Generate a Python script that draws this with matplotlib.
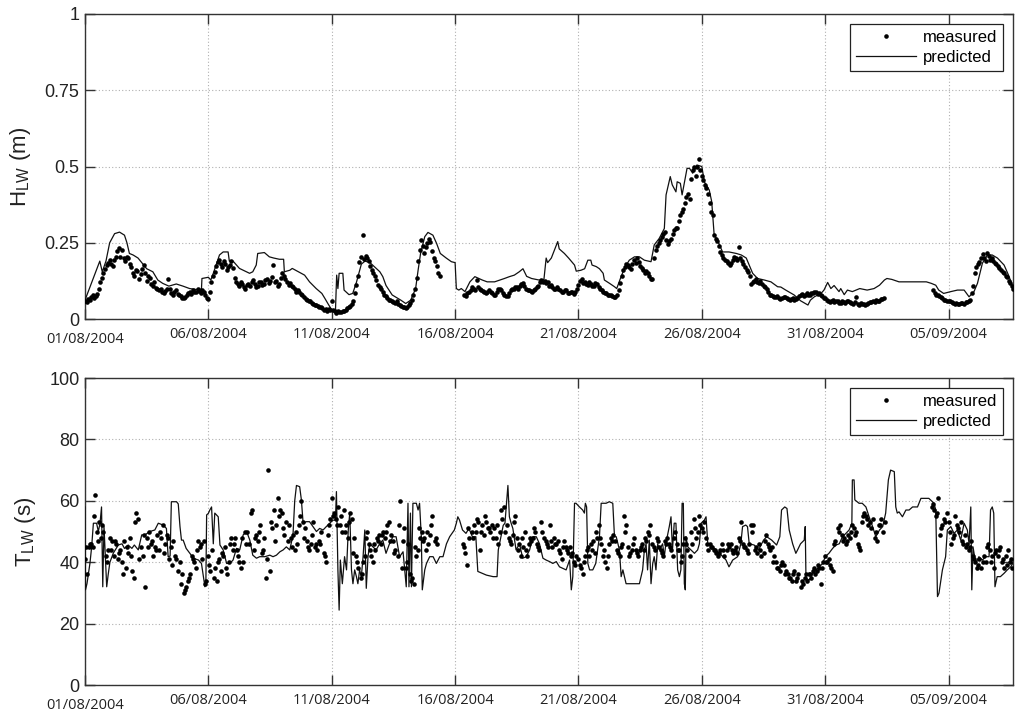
import numpy as np
import matplotlib
matplotlib.use("Agg")
import matplotlib.pyplot as plt
from matplotlib.lines import Line2D

nan = np.nan

# ---------------- DATA ----------------
start_date = "2004-08-01T00:00"
x_end_days = 37.6
tick_dates = ["2004-08-01", "2004-08-06", "2004-08-11", "2004-08-16",
              "2004-08-21", "2004-08-26", "2004-08-31", "2004-09-05"]
tick_labels = ["01/08/2004", "06/08/2004", "11/08/2004", "16/08/2004",
               "21/08/2004", "26/08/2004", "31/08/2004", "05/09/2004"]

# measured H_LW (m), one value every 3 hours from 01/08/2004 00:00
H_meas_step_h = 3
H_meas = [
    0.060, 0.066, 0.072, 0.070, 0.082, 0.120, 0.150, 0.178,
    0.193, 0.175, 0.205, 0.232, 0.228, 0.190, 0.200, 0.172,
    0.140, 0.158, 0.148, 0.178, 0.125, 0.135, 0.110, 0.102,
    0.095, 0.090, 0.092, 0.132, 0.085, 0.090, 0.082, 0.074,
    0.068, 0.078, 0.088, 0.095, 0.090, 0.092, 0.096, 0.078,
    0.065, 0.120, 0.155, 0.186, 0.182, 0.190, 0.162, 0.176,
    0.168, 0.122, 0.108, 0.114, 0.100, 0.115, 0.122, 0.116,
    0.110, 0.122, 0.116, 0.130, 0.124, 0.178, 0.124, 0.116,
    0.150, 0.132, 0.112, 0.110, 0.100, 0.094, 0.082, 0.072,
    0.064, 0.058, 0.050, 0.046, 0.040, 0.036, 0.032, 0.034,
    0.060, 0.025, 0.028, 0.022, 0.026, 0.035, 0.043, 0.060,
    0.112, 0.188, 0.275, 0.208, 0.190, 0.162, 0.140, 0.112,
    0.100, 0.080, 0.068, 0.062, 0.057, 0.060, 0.047, 0.040,
    0.036, 0.045, 0.062, 0.100, 0.190, 0.258, 0.215, 0.248,
    0.254, 0.200, 0.175, 0.140, nan, nan, nan, nan,
    nan, nan, nan, 0.080, 0.085, 0.095, 0.100, 0.128,
    0.100, 0.092, 0.085, 0.095, 0.084, 0.080, 0.100, 0.094,
    0.079, 0.074, 0.095, 0.100, 0.106, 0.110, 0.117, 0.100,
    0.095, 0.090, 0.100, 0.110, 0.128, 0.126, 0.120, 0.113,
    0.100, 0.104, 0.095, 0.090, 0.096, 0.084, 0.088, 0.090,
    0.111, 0.130, 0.122, 0.112, 0.116, 0.110, 0.114, 0.100,
    0.090, 0.084, 0.080, 0.076, 0.073, 0.095, 0.140, 0.172,
    0.178, 0.165, 0.192, 0.200, 0.175, 0.162, 0.158, 0.140,
    0.132, 0.225, 0.250, 0.268, 0.285, 0.245, 0.262, 0.292,
    0.300, 0.340, 0.360, 0.400, 0.395, 0.490, 0.470, 0.525,
    0.470, 0.440, 0.410, 0.352, 0.275, 0.255, 0.220, 0.200,
    0.190, 0.178, 0.195, 0.200, 0.237, 0.190, 0.172, 0.155,
    0.115, 0.125, 0.122, 0.126, 0.110, 0.100, 0.080, 0.075,
    0.072, 0.070, 0.068, 0.071, 0.066, 0.065, 0.062, 0.070,
    0.079, 0.077, 0.084, 0.080, 0.084, 0.090, 0.084, 0.076,
    0.068, 0.058, 0.060, 0.056, 0.060, 0.054, 0.056, 0.060,
    0.056, 0.050, 0.073, 0.046, 0.050, 0.046, 0.052, 0.056,
    0.057, 0.060, 0.065, 0.068, nan, nan, nan, nan,
    nan, nan, nan, nan, nan, nan, nan, nan,
    nan, nan, nan, 0.095, 0.080, 0.075, 0.068, 0.062,
    0.060, 0.056, 0.051, 0.050, 0.053, 0.050, 0.055, 0.062,
    0.110, 0.170, 0.188, 0.212, 0.190, 0.208, 0.200, 0.185,
    0.175, 0.160, 0.150, 0.138, 0.118, 0.100,
]
# measured H_LW (m), intermediate samples (every 3 hours from 01/08/2004 01:30)
H_meas_b_offset_h = 1.5
H_meas_b = [
    0.055, 0.062, 0.080, 0.075, 0.100, 0.135, 0.165, 0.185,
    0.180, 0.195, 0.222, 0.205, 0.200, 0.205, 0.182, 0.150,
    0.162, 0.130, 0.165, 0.150, 0.142, 0.115, 0.120, 0.098,
    0.100, 0.084, 0.100, 0.098, 0.080, 0.095, 0.078, 0.070,
    0.072, 0.085, 0.082, 0.088, 0.098, 0.085, 0.088, 0.070,
    0.090, 0.140, 0.175, 0.195, 0.172, 0.180, 0.170, 0.190,
    0.135, 0.115, 0.120, 0.105, 0.112, 0.108, 0.128, 0.105,
    0.120, 0.112, 0.128, 0.118, 0.138, 0.122, 0.110, 0.135,
    0.140, 0.120, 0.118, 0.105, 0.090, 0.088, 0.078, 0.066,
    0.060, 0.052, 0.046, 0.042, 0.038, 0.030, 0.028, 0.030,
    0.030, 0.020, 0.024, 0.026, 0.030, 0.040, 0.050, 0.085,
    0.140, 0.205, 0.198, 0.200, 0.175, 0.150, 0.128, 0.105,
    0.090, 0.075, 0.064, 0.060, 0.052, 0.050, 0.043, 0.038,
    0.040, 0.052, 0.080, 0.135, 0.225, 0.240, 0.235, 0.262,
    0.222, 0.190, 0.150, nan, nan, nan, nan, nan,
    nan, nan, nan, 0.075, 0.090, 0.105, 0.095, 0.105,
    0.096, 0.088, 0.090, 0.088, 0.078, 0.090, 0.098, 0.085,
    0.076, 0.085, 0.098, 0.104, 0.100, 0.115, 0.108, 0.096,
    0.092, 0.096, 0.105, 0.120, 0.122, 0.118, 0.108, 0.105,
    0.098, 0.100, 0.090, 0.094, 0.086, 0.090, 0.082, 0.100,
    0.124, 0.118, 0.115, 0.120, 0.108, 0.118, 0.106, 0.096,
    0.086, 0.080, 0.078, 0.072, 0.078, 0.118, 0.160, 0.180,
    0.170, 0.180, 0.185, 0.188, 0.168, 0.150, 0.150, 0.130,
    0.200, 0.238, 0.258, 0.280, 0.260, 0.255, 0.280, 0.300,
    0.320, 0.350, 0.380, 0.410, 0.460, 0.500, 0.500, 0.490,
    0.455, 0.430, 0.380, 0.340, 0.262, 0.240, 0.210, 0.195,
    0.185, 0.185, 0.205, 0.195, 0.200, 0.180, 0.160, 0.140,
    0.120, 0.130, 0.118, 0.115, 0.105, 0.090, 0.078, 0.072,
    0.075, 0.066, 0.072, 0.068, 0.062, 0.068, 0.065, 0.075,
    0.082, 0.080, 0.078, 0.086, 0.088, 0.082, 0.080, 0.070,
    0.062, 0.055, 0.062, 0.058, 0.052, 0.058, 0.054, 0.058,
    0.052, 0.055, 0.048, 0.052, 0.048, 0.050, 0.055, 0.058,
    0.062, 0.058, 0.066, nan, nan, nan, nan, nan,
    nan, nan, nan, nan, nan, nan, nan, nan,
    nan, nan, nan, 0.085, 0.078, 0.072, 0.064, 0.058,
    0.058, 0.052, 0.054, 0.048, 0.052, 0.056, 0.058, 0.085,
    0.150, 0.180, 0.200, 0.200, 0.215, 0.195, 0.190, 0.180,
    0.168, 0.155, 0.142, 0.125, 0.108,
]

# predicted H_LW (m): (days since 01/08/2004, value)
H_pred_day = [0.0, 0.6, 0.7, 0.85, 1.0, 1.2, 1.4, 1.6, 1.7, 1.8, 1.95, 2.15, 2.35, 2.5,
              2.75, 2.95, 3.15, 3.4, 3.7, 3.97, 4.24, 4.5, 4.72, 4.74, 5.0, 5.1, 5.2, 5.45,
              5.6, 5.8, 5.85, 6.0, 6.26, 6.67, 6.8, 6.94, 7.0, 7.27, 7.47, 7.65, 7.88, 8.05,
              8.08, 8.3, 8.4, 8.65, 8.9, 9.1, 9.37, 9.6, 9.72, 9.85, 10.0, 10.15, 10.2,
              10.25, 10.3, 10.45, 10.5, 10.7, 10.85, 11.0, 11.2, 11.35, 11.55, 11.75,
              11.95, 12.07, 12.2, 12.45, 12.8, 13.0, 13.2, 13.4, 13.5, 13.6, 13.77, 13.9,
              14.1, 14.25, 14.4, 14.64, 14.85, 15.0, 15.05, 15.15, 15.25, 15.4, 15.6,
              15.8, 16.1, 16.3, 16.6, 17.0, 17.2, 17.4, 17.6, 17.75, 17.9, 18.1, 18.4,
              18.6, 18.69, 18.75, 18.9, 19.16, 19.22, 19.43, 19.6, 19.84, 19.91, 20.1,
              20.25, 20.38, 20.5, 20.55, 20.72, 20.85, 21.0, 21.05, 21.26, 21.46, 21.55,
              21.7, 21.86, 22.06, 22.27, 22.47, 22.67, 22.94, 23.07, 23.27, 23.48, 23.55,
              23.72, 23.8, 23.95, 24.0, 24.13, 24.2, 24.4, 24.5, 24.63, 24.8, 25.0, 25.1,
              25.3, 25.4, 25.5, 25.6, 25.84, 26.1, 26.4, 26.6, 26.8, 26.92, 27.06, 27.26,
              27.53, 27.8, 28.07, 28.2, 28.4, 28.74, 29.0, 29.3, 29.4, 29.56, 29.83,
              29.95, 30.1, 30.23, 30.36, 30.56, 30.63, 30.77, 30.9, 31.1, 31.4, 31.7,
              31.98, 32.2, 32.4, 32.5, 32.7, 32.99, 33.33, 33.7, 34.1, 34.3, 34.48, 34.6,
              34.8, 35.09, 35.36, 35.63, 35.83, 36.03, 36.17, 36.37, 36.57, 36.77, 36.98,
              37.25, 37.45, 37.6]
H_pred = [0.062, 0.19, 0.155, 0.19, 0.25, 0.28, 0.285, 0.275, 0.25, 0.215, 0.21, 0.2, 0.18,
          0.165, 0.155, 0.128, 0.117, 0.108, 0.115, 0.108, 0.1, 0.097, 0.098, 0.133, 0.137,
          0.128, 0.15, 0.21, 0.22, 0.22, 0.19, 0.19, 0.166, 0.15, 0.155, 0.177, 0.215,
          0.218, 0.204, 0.2, 0.196, 0.196, 0.155, 0.16, 0.166, 0.155, 0.144, 0.122, 0.1,
          0.084, 0.068, 0.05, 0.03, 0.025, 0.144, 0.1, 0.15, 0.15, 0.095, 0.08, 0.084,
          0.12, 0.18, 0.19, 0.185, 0.17, 0.155, 0.139, 0.11, 0.079, 0.062, 0.051, 0.062,
          0.1, 0.16, 0.215, 0.27, 0.284, 0.275, 0.248, 0.215, 0.2, 0.188, 0.185, 0.1,
          0.095, 0.1, 0.09, 0.122, 0.139, 0.128, 0.122, 0.122, 0.133, 0.139, 0.144, 0.155,
          0.165, 0.14, 0.133, 0.128, 0.13, 0.2, 0.185, 0.2, 0.254, 0.23, 0.215, 0.2,
          0.177, 0.157, 0.16, 0.165, 0.193, 0.193, 0.177, 0.172, 0.165, 0.15, 0.128,
          0.117, 0.106, 0.1, 0.133, 0.166, 0.193, 0.204, 0.204, 0.193, 0.188, 0.243,
          0.264, 0.297, 0.407, 0.467, 0.44, 0.417, 0.45, 0.445, 0.407, 0.494, 0.494,
          0.478, 0.505, 0.5, 0.45, 0.423, 0.385, 0.275, 0.264, 0.22, 0.22, 0.215, 0.21,
          0.2, 0.177, 0.15, 0.133, 0.128, 0.122, 0.106, 0.105, 0.095, 0.079, 0.06, 0.046,
          0.062, 0.073, 0.084, 0.095, 0.12, 0.1, 0.11, 0.09, 0.1, 0.08, 0.095, 0.09, 0.1,
          0.095, 0.1, 0.111, 0.128, 0.133, 0.13, 0.122, 0.122, 0.122, 0.122, 0.117,
          0.111, 0.095, 0.084, 0.09, 0.095, 0.095, 0.073, 0.09, 0.117, 0.183, 0.21, 0.21,
          0.2, 0.177, 0.14, 0.105]

# measured T_LW (s), one value every 2 hours from 01/08/2004 00:00
T_meas_step_h = 2
T_meas = [
    41, 36, 45, 46, 45, 62, 50, 53, 48, 50, 42, 44,
    48, 47, 42, 46, 41, 44, 40, 47, 38, 43, 48, 37,
    35, 56, 54, 45, 42, 32, 48, 50, 46, 42, 45, 49,
    44, 48, 52, 46, 49, 41, 45, 47, 42, 37, 40, 36,
    30, 32, 34, 36, 42, 40, 38, 47, 45, 41, 47, 34,
    42, 37, 44, 38, 34, 41, 37, 42, 45, 36, 40, 48,
    44, 48, 44, 40, 38, 40, 50, 50, 46, 57, 44, 49,
    47, 52, 43, 48, 35, 70, 37, 51, 57, 52, 61, 57,
    56, 49, 53, 52, 48, 49, 44, 46, 52, 60, 53, 51,
    47, 44, 46, 53, 45, 44, 47, 50, 43, 40, 49, 54,
    61, 56, 54, 58, 52, 50, 57, 52, 48, 56, 54, 48,
    42, 38, 35, 40, 42, 50, 46, 42, 40, 44, 48, 49,
    46, 50, 48, 52, 53, 49, 47, 44, 42, 60, 38, 51,
    38, 46, 36, 35, 33, 42, 44, 48, 50, 48, 44, 46,
    49, 55, 47, 46, nan, nan, nan, nan, nan, nan, nan, nan,
    nan, nan, nan, nan, 46, 43, 39, 48, 50, 52, 50, 53,
    44, 52, 49, 53, 51, 50, 52, 51, 48, 46, 50, 54,
    58, 52, 48, 46, 49, 55, 48, 46, 42, 45, 50, 42,
    46, 47, 48, 50, 46, 44, 53, 48, 47, 45, 52, 45,
    48, 46, 47, 43, 41, 47, 45, 43, 45, 43, 40, 42,
    41, 38, 36, 42, 44, 42, 46, 47, 43, 48, 52, 46,
    42, 40, 38, 46, 48, 49, 47, 43, 42, 46, 55, 52,
    45, 43, 44, 48, 44, 42, 44, 46, 44, 47, 50, 52,
    46, 44, 48, 45, 44, 42, 47, 48, 46, 44, 42, 50,
    46, 44, 40, 46, 48, 44, 42, 46, 54, 48, 50, 52,
    51, 53, 48, 44, 46, 45, 44, 43, 42, 44, 46, 42,
    44, 45, 46, 43, 44, 43, 48, 53, 46, 45, 44, 46,
    52, 52, 44, 43, 46, 42, 43, 49, 46, 44, 45, 42,
    40, 38, 37, 40, 39, 37, 36, 35, 34, 37, 34, 36,
    32, 33, 35, 34, 36, 35, 37, 36, 37, 38, 33, 40,
    42, 40, 41, 38, 37, 47, 51, 52, 49, 48, 46, 49,
    48, 52, 51, 50, 46, 44, 53, 56, 55, 52, 53, 54,
    48, 47, 52, 54, 50, 53, nan, nan, nan, nan, nan, nan,
    nan, nan, nan, nan, nan, nan, nan, nan, nan, nan, nan, nan,
    nan, nan, nan, nan, 58, 57, 55, 61, 49, 52, 54, 56,
    53, 46, 48, 55, 52, 50, 53, 46, 49, 46, 44, 47,
    42, 40, 38, 41, 38, 42, 40, 46, 44, 42, 38, 44,
    42, 45, 40, 38, 42, 44, 40, 38,
]
# measured T_LW (s), intermediate samples (every 4 hours from 01/08/2004 01:00)
T_meas_b_step_h = 4
T_meas_b_offset_h = 1
T_meas_b = [
    45, 46, 55, 47, 52, 40,
    44, 47, 43, 36, 45, 42,
    53, 41, 49, 45, 47, 44,
    50, 43, 48, 39, 41, 33,
    31, 35, 41, 44, 46, 33,
    39, 35, 40, 43, 38, 46,
    46, 42, 48, 46, 56, 48,
    50, 44, 41, 53, 47, 55,
    51, 47, 45, 50, 55, 48,
    45, 49, 46, 46, 42, 52,
    55, 52, 55, 50, 53, 43,
    40, 36, 48, 44, 46, 47,
    49, 50, 47, 43, 52, 47,
    40, 34, 45, 51, 47, 50,
    52, 48, nan, nan, nan, nan,
    nan, nan, 45, 51, 48, 54,
    50, 55, 51, 48, 52, 57,
    50, 47, 53, 44, 48, 44,
    48, 51, 45, 50, 46, 47,
    46, 44, 45, 44, 42, 39,
    39, 40, 45, 44, 50, 48,
    44, 42, 47, 44, 45, 50,
    42, 46, 43, 45, 48, 49,
    45, 47, 43, 46, 45, 48,
    44, 42, 46, 50, 51, 55,
    50, 46, 45, 44, 43, 44,
    46, 44, 45, 47, 45, 43,
    50, 45, 44, 47, 45, 40,
    38, 39, 36, 35, 36, 35,
    34, 36, 36, 38, 39, 38,
    40, 39, 46, 50, 47, 47,
    50, 49, 45, 55, 54, 51,
    50, 52, nan, nan, nan, nan,
    nan, nan, nan, nan, nan, nan,
    nan, nan, 59, 56, 51, 53,
    50, 49, 51, 47, 45, 45,
    41, 39, 40, 45, 40, 43,
    44, 41, 39, 41,
]

# predicted T_LW (s): (days since 01/08/2004, value)
T_pred_day = [0.0, 0.02, 0.08, 0.2, 0.27, 0.34, 0.47, 0.54, 0.61, 0.67, 0.72, 0.77, 0.88,
              0.94, 1.01, 1.15, 1.35, 1.5, 1.6, 1.75, 1.9, 2.0, 2.16, 2.3, 2.43, 2.63, 2.83,
              2.97, 3.17, 3.3, 3.37, 3.45, 3.5, 3.71, 3.78, 3.85, 3.91, 3.98, 4.1, 4.25,
              4.39, 4.6, 4.72, 4.86, 4.9, 4.93, 5.0, 5.06, 5.13, 5.2, 5.26, 5.4, 5.47, 5.6,
              5.74, 5.87, 6.0, 6.14, 6.27, 6.41, 6.55, 6.68, 6.8, 6.95, 7.08, 7.29, 7.49,
              7.62, 7.76, 7.9, 8.03, 8.16, 8.3, 8.43, 8.5, 8.57, 8.7, 8.77, 8.84, 8.97,
              9.1, 9.24, 9.38, 9.51, 9.65, 9.78, 9.92, 10.05, 10.15, 10.19, 10.25, 10.3,
              10.35, 10.43, 10.52, 10.6, 10.67, 10.73, 10.8, 10.86, 10.93, 11.0, 11.06,
              11.13, 11.2, 11.27, 11.34, 11.4, 11.47, 11.54, 11.67, 11.8, 11.94, 12.07,
              12.2, 12.34, 12.48, 12.61, 12.75, 12.89, 13.02, 13.09, 13.13, 13.19, 13.23,
              13.29, 13.43, 13.5, 13.56, 13.63, 13.67, 13.77, 13.84, 13.97, 14.11, 14.24,
              14.38, 14.51, 14.65, 14.78, 14.97, 15.05, 15.11, 15.18, 15.3, 15.44, 15.56,
              15.7, 15.84, 15.92, 16.27, 16.54, 16.7, 16.75, 16.85, 16.95, 17.02, 17.07,
              17.14, 17.2, 17.27, 17.34, 17.47, 17.61, 17.74, 17.88, 18.02, 18.15, 18.29,
              18.42, 18.56, 18.69, 18.83, 18.96, 19.1, 19.23, 19.37, 19.5, 19.64, 19.71,
              19.77, 19.84, 19.9, 20.04, 20.17, 20.24, 20.28, 20.33, 20.38, 20.45, 20.58,
              20.7, 20.85, 20.92, 21.12, 21.25, 21.39, 21.46, 21.53, 21.6, 21.66, 21.73,
              21.8, 21.93, 22.2, 22.47, 22.6, 22.67, 22.74, 22.8, 22.87, 22.94, 23.01,
              23.07, 23.14, 23.21, 23.28, 23.41, 23.48, 23.54, 23.68, 23.75, 23.81, 23.88,
              23.95, 24.02, 24.09, 24.15, 24.2, 24.25, 24.29, 24.33, 24.36, 24.43, 24.56,
              24.7, 24.83, 24.9, 24.97, 25.1, 25.17, 25.24, 25.44, 25.57, 25.71, 25.85,
              25.98, 26.1, 26.25, 26.45, 26.58, 26.65, 26.78, 26.85, 26.92, 27.12, 27.3,
              27.5, 27.63, 27.83, 28.03, 28.16, 28.23, 28.36, 28.45, 28.54, 28.68, 28.81,
              28.88, 29.0, 29.15, 29.19, 29.22, 29.36, 29.5, 29.63, 29.76, 29.9, 30.0,
              30.15, 30.3, 30.43, 30.57, 30.7, 30.84, 30.97, 31.08, 31.1, 31.17, 31.2,
              31.37, 31.5, 31.65, 31.78, 31.92, 32.05, 32.2, 32.33, 32.45, 32.56, 32.65,
              32.8, 32.86, 32.92, 32.99, 33.13, 33.27, 33.4, 33.54, 33.74, 33.88, 34.2,
              34.34, 34.41, 34.48, 34.55, 34.61, 34.75, 34.88, 34.95, 35.09, 35.22, 35.36,
              35.49, 35.63, 35.76, 35.83, 35.9, 35.94, 35.99, 36.1, 36.23, 36.37, 36.5,
              36.64, 36.7, 36.77, 36.83, 36.88, 36.97, 37.1, 37.25, 37.38, 37.52, 37.6]
T_pred = [58, 31, 33, 39.6, 45, 52.7, 52.7, 50, 52.7, 58, 32, 51.6, 32, 36, 40, 43, 45.6,
          46, 44.5, 45.6, 44.5, 45.6, 44, 48.9, 48.9, 50, 50.5, 52.7, 52.1, 51, 41.8, 42,
          59.7, 59.7, 59, 51.6, 47.2, 47.2, 44.5, 42.9, 41.3, 40.7, 39.6, 32, 34, 55.4,
          55.9, 57, 58, 46, 56, 54.8, 45.6, 44, 39.6, 39.6, 40.7, 44.5, 44, 48.9, 50, 47.2,
          42.3, 41.3, 41.8, 41.8, 42.3, 41.8, 42.3, 43.4, 44, 45, 44, 48.9, 60, 65, 64.6,
          60.3, 52.7, 53.2, 53.2, 51.6, 50, 51, 50.5, 51.6, 52.7, 53.7, 53.7, 63, 37.5,
          24.4, 40.7, 33, 41.8, 37.5, 50.5, 56, 37.5, 33, 37.5, 35.3, 33, 37.5, 35.3, 41.8,
          50.5, 31.5, 41.8, 46, 45, 44, 46, 47.2, 42.9, 46, 48.3, 48.3, 41.8, 43.4, 32,
          59.2, 32, 56, 32, 59.2, 59.2, 57, 59.2, 48.3, 31, 37.5, 39.6, 41.8, 41.8, 39.6,
          41.8, 41.8, 46, 48.3, 50.5, 52.7, 54.8, 53.7, 50.5, 49.4, 51, 48.3, 48.3, 37,
          35.8, 35.3, 35.3, 44, 48, 52, 52.7, 58, 65, 54.8, 52.7, 51, 44, 46, 41.3, 41.8,
          44, 48.3, 48.3, 46, 41.3, 40.7, 40.2, 39.6, 40.2, 38.5, 38, 37.5, 40.7, 31, 35.3,
          59.2, 59.2, 58, 57, 56, 59.2, 58, 39.6, 37.5, 37.5, 39.6, 48.3, 59.2, 59.2, 59.7,
          59.2, 48.3, 48.3, 46, 44, 35.3, 37.5, 33, 33, 33, 37.5, 44, 46, 37.5, 47.2, 33,
          39.6, 41.8, 37.5, 46, 44, 46, 41.8, 46, 51.6, 54.8, 44, 52.7, 52.7, 37.5, 35.3,
          37.5, 59.2, 59.2, 33, 31, 48.3, 45, 44, 42.9, 44, 46, 52.7, 53.7, 54.8, 46, 45,
          44, 42.9, 41.8, 40.7, 38.5, 40.7, 41.8, 46, 51.6, 52.1, 51.6, 46, 45.6, 44, 47.2,
          48.3, 47.2, 45.6, 48.3, 57, 58, 57.5, 50.5, 46, 42.9, 44, 46, 47.2, 51.6, 34.7,
          34.2, 36.4, 37.5, 38.5, 39.6, 41.8, 42.9, 44.5, 45.6, 46, 48.3, 49.4, 50.5, 52.7,
          66.8, 66.8, 60.3, 59.2, 59.2, 58, 54.8, 51.6, 48.3, 50.5, 51.6, 56, 66.8, 70,
          69.5, 58, 56, 56.4, 54.8, 57, 57, 58, 58, 60.8, 60.8, 59.7, 59.2, 57, 28.8, 29.9,
          37.5, 41.8, 50.5, 51.6, 49.4, 50.5, 47.2, 52.7, 50.5, 46, 58, 31, 45, 39.6, 41.8,
          40.7, 41.8, 41.8, 57, 58, 56, 32, 35.3, 35.3, 36.4, 37.5, 38.5, 39.6]

# ---------------- PLOT ----------------
t0 = np.datetime64(start_date)

def minutes(x):
    return (np.asarray(x, dtype=float)).round().astype("timedelta64[m]")

def times_from_days(days):
    return t0 + minutes(np.asarray(days, dtype=float) * 24 * 60)

def times_regular(n, step_h, offset_h=0.0):
    return t0 + minutes((offset_h + np.arange(n) * step_h) * 60)

def merge(ta, va, tb, vb):
    t = np.concatenate([ta, tb])
    v = np.concatenate([np.asarray(va, float), np.asarray(vb, float)])
    order = np.argsort(t)
    return t[order], v[order]

tHm, vHm = merge(times_regular(len(H_meas), H_meas_step_h), H_meas,
                 times_regular(len(H_meas_b), H_meas_step_h, H_meas_b_offset_h), H_meas_b)
tTm, vTm = merge(times_regular(len(T_meas), T_meas_step_h), T_meas,
                 times_regular(len(T_meas_b), T_meas_b_step_h, T_meas_b_offset_h), T_meas_b)
tH_pred = times_from_days(H_pred_day)
tT_pred = times_from_days(T_pred_day)
ticks = np.array(tick_dates, dtype="datetime64[m]")
x_end = t0 + minutes(x_end_days * 24 * 60)

fig = plt.figure(figsize=(10.24, 7.17), dpi=100)
ax1 = fig.add_axes([0.083, 0.555, 0.906, 0.4255])
ax2 = fig.add_axes([0.083, 0.0446, 0.906, 0.4282])

spine_col = "#333333"
sans = "Liberation Sans"

def style(ax, yticks, ylabels, ylim, ylabel):
    ax.set_xlim(t0, x_end)
    ax.set_ylim(*ylim)
    ax.set_yticks(yticks)
    ax.set_yticklabels(ylabels, fontsize=13, family=sans)
    ax.set_xticks(ticks)
    ax.set_xticklabels(tick_labels, fontsize=10.5, family="Open Sans")
    ax.tick_params(direction="in", length=7, width=1, top=True, right=True,
                   color=spine_col, labelcolor="#222222")
    ax.tick_params(axis="x", pad=6)
    ax.tick_params(axis="y", pad=4)
    ax.xaxis.get_major_ticks()[0].set_pad(9.5)
    ax.grid(True, linestyle=(0, (1, 2)), color="#b0b0b0", linewidth=0.8)
    for s in ax.spines.values():
        s.set_color(spine_col)
        s.set_linewidth(1.0)
    ax.set_ylabel(ylabel, fontsize=16, family=sans, labelpad=8, color="#222222")

style(ax1, [0, 0.25, 0.5, 0.75, 1], ["0", "0.25", "0.5", "0.75", "1"], (0, 1),
      r"H$_{\mathregular{LW}}$ (m)")
style(ax2, [0, 20, 40, 60, 80, 100], ["0", "20", "40", "60", "80", "100"], (0, 100),
      r"T$_{\mathregular{LW}}$ (s)")

for ax, tm, vm, tp, vp in [(ax1, tHm, vHm, tH_pred, H_pred),
                           (ax2, tTm, vTm, tT_pred, T_pred)]:
    ax.plot(tp, vp, color="#111111", linewidth=0.9, zorder=3)
    ax.plot(tm, vm, linestyle="none", marker="o", markersize=3.3,
            markerfacecolor="#000000", markeredgewidth=0, zorder=4)
    handles = [Line2D([], [], linestyle="none", marker="o", markersize=3.3,
                      markerfacecolor="#000000", markeredgewidth=0),
               Line2D([], [], color="#111111", linewidth=0.9)]
    leg = ax.legend(handles, ["measured", "predicted"], loc="upper right",
                    prop={"family": sans, "size": 12}, handlelength=3.6,
                    handletextpad=0.4, borderaxespad=0.6, fancybox=False,
                    framealpha=1, edgecolor="#222222", numpoints=1,
                    borderpad=0.35, labelspacing=0.3)
    leg.get_frame().set_linewidth(0.9)

fig.savefig("out.png", dpi=100)
